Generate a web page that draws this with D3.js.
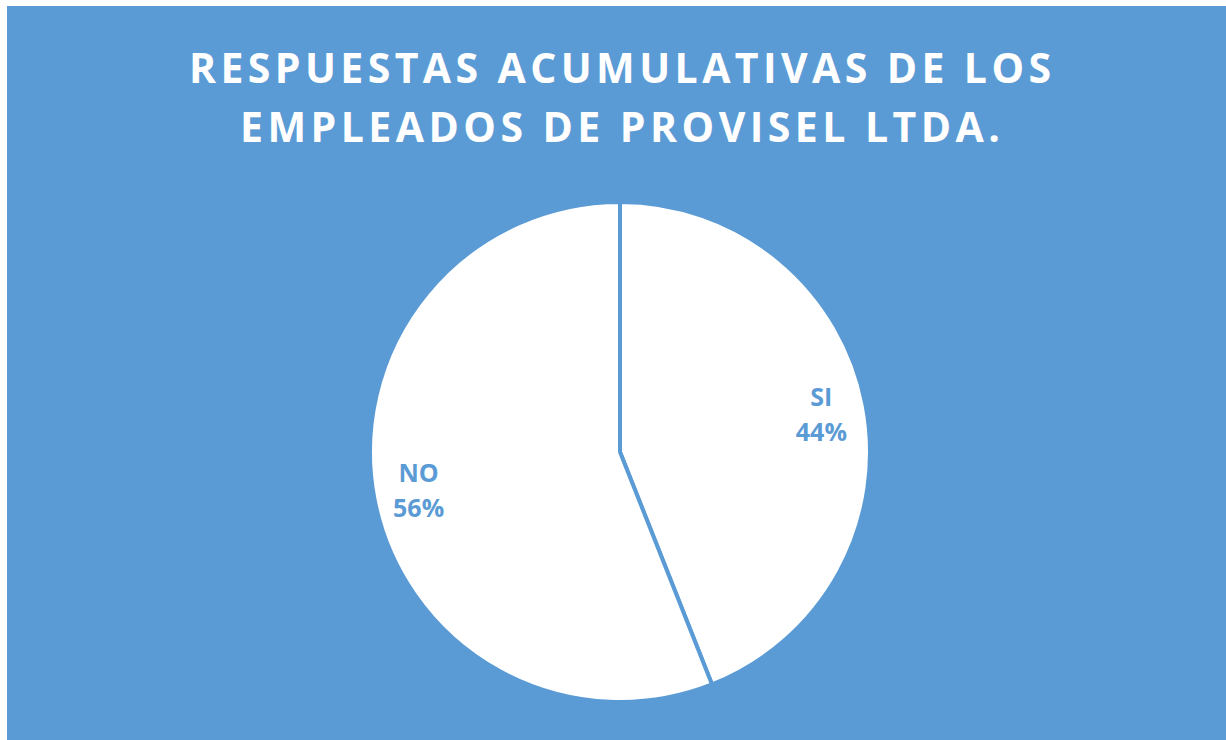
<!DOCTYPE html>
<html>
<head>
<meta charset="utf-8">
<script src="https://cdn.jsdelivr.net/npm/d3@7"></script>
<style>
  html, body { margin: 0; padding: 0; background: #fff; }
  svg { display: block; }
</style>
</head>
<body>
<div id="chart"></div>
<script>
// datos del gráfico
const categorias = ['SI', 'NO'];
const valores = [44, 56];
const tituloLineas = ['RESPUESTAS ACUMULATIVAS DE LOS', 'EMPLEADOS DE PROVISEL LTDA.'];

const W = 1226, H = 740;
const azul = '#5B9BD5';

const svg = d3.select('#chart')
    .append('svg')
    .attr('width', W)
    .attr('height', H);

// fondo
svg.append('rect')
    .attr('x', 7)
    .attr('y', 6)
    .attr('width', W - 7)
    .attr('height', H - 6)
    .attr('fill', azul);

// título
const anchos = [862, 760];
const bases = [83, 142];
svg.selectAll('.titulo')
    .data(tituloLineas)
    .enter()
    .append('text')
    .attr('class', 'titulo')
    .attr('x', 620)
    .attr('y', (d, i) => bases[i])
    .attr('text-anchor', 'middle')
    .attr('fill', '#fff')
    .attr('textLength', (d, i) => anchos[i])
    .attr('lengthAdjust', 'spacing')
    .style('font-family', '"Open Sans", sans-serif')
    .style('font-weight', 'bold')
    .style('font-size', '41px')
    .text(d => d);

// pastel
const cx = 620, cy = 452, radio = 250;
const pie = d3.pie().sort(null).value(d => d);
const arc = d3.arc().innerRadius(0).outerRadius(radio);
const arcos = pie(valores);

const g = svg.append('g')
    .attr('transform', `translate(${cx},${cy})`);

g.selectAll('path')
    .data(arcos)
    .enter()
    .append('path')
    .attr('d', arc)
    .attr('fill', '#fff')
    .attr('stroke', azul)
    .attr('stroke-width', 4)
    .attr('stroke-linejoin', 'round');

// etiquetas
const arcoEtiqueta = d3.arc().innerRadius(205).outerRadius(205);
const etiquetas = g.selectAll('.etiqueta')
    .data(arcos)
    .enter()
    .append('text')
    .attr('class', 'etiqueta')
    .attr('transform', d => {
        const c = arcoEtiqueta.centroid(d);
        return `translate(${c[0]},${c[1]})`;
    })
    .attr('text-anchor', 'middle')
    .attr('fill', azul)
    .style('font-family', '"Open Sans", sans-serif')
    .style('font-weight', 'bold')
    .style('font-size', '25px');

etiquetas.append('tspan')
    .attr('x', 0)
    .attr('dy', -8)
    .text((d, i) => categorias[i]);
etiquetas.append('tspan')
    .attr('x', 0)
    .attr('dy', 35)
    .text(d => d.data + '%');
</script>
</body>
</html>
